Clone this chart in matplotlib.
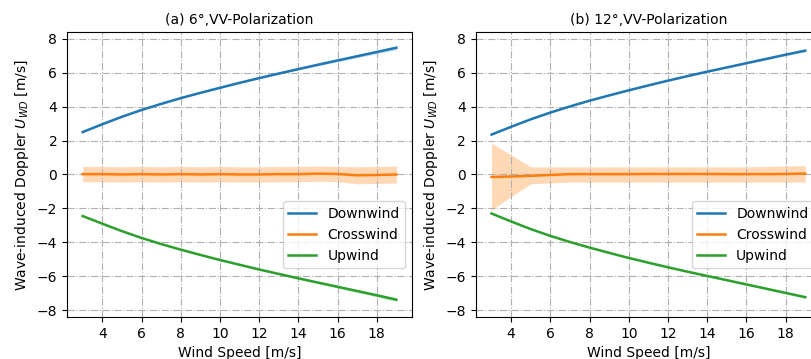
import matplotlib
matplotlib.use('Agg')
import matplotlib.pyplot as plt
import numpy as np

# wind speed bins
wind = [3, 4, 5, 6, 7, 8, 9, 10, 11, 12, 13, 14, 15, 16, 17, 18, 19]

# (a) 6 deg
down_a = [2.5, 2.96, 3.4, 3.8, 4.16, 4.5, 4.81, 5.11, 5.4, 5.68, 5.95, 6.21, 6.47, 6.72, 6.97, 7.22, 7.47]
down_a_sd = [0.02, 0.02, 0.02, 0.02, 0.03, 0.03, 0.03, 0.04, 0.04, 0.05, 0.05, 0.06, 0.07, 0.08, 0.09, 0.1, 0.11]
cross_a = [0.02, 0.02, 0.0, 0.02, 0.0, 0.02, 0.0, 0.02, 0.0, 0.0, 0.02, 0.02, 0.05, 0.03, -0.05, -0.03, 0.0]
cross_a_sd = [0.45, 0.45, 0.45, 0.45, 0.45, 0.45, 0.45, 0.45, 0.45, 0.45, 0.45, 0.45, 0.45, 0.45, 0.5, 0.5, 0.5]
up_a = [-2.45, -2.9, -3.34, -3.74, -4.1, -4.43, -4.74, -5.04, -5.32, -5.6, -5.86, -6.12, -6.37, -6.62, -6.87, -7.12, -7.38]
up_a_sd = [0.02, 0.02, 0.02, 0.02, 0.03, 0.03, 0.03, 0.04, 0.04, 0.05, 0.05, 0.06, 0.07, 0.08, 0.09, 0.1, 0.11]

# (b) 12 deg
down_b = [2.35, 2.81, 3.25, 3.65, 4.01, 4.35, 4.66, 4.96, 5.25, 5.53, 5.8, 6.06, 6.31, 6.56, 6.81, 7.06, 7.3]
down_b_sd = [0.02, 0.02, 0.02, 0.02, 0.02, 0.03, 0.03, 0.03, 0.03, 0.04, 0.04, 0.04, 0.05, 0.05, 0.06, 0.06, 0.07]
cross_b = [-0.15, -0.12, -0.08, -0.03, 0.02, 0.02, 0.02, 0.02, 0.03, 0.03, 0.03, 0.03, 0.02, 0.02, 0.02, 0.03, 0.05]
cross_b_lo = [-2.1, -1.3, -0.55, -0.5, -0.45, -0.45, -0.45, -0.45, -0.45, -0.45, -0.45, -0.45, -0.45, -0.45, -0.45, -0.45, -0.45]
cross_b_hi = [1.85, 1.15, 0.45, 0.45, 0.45, 0.45, 0.45, 0.45, 0.45, 0.45, 0.45, 0.45, 0.45, 0.45, 0.47, 0.5, 0.52]
up_b = [-2.3, -2.77, -3.22, -3.62, -3.98, -4.31, -4.62, -4.92, -5.2, -5.47, -5.73, -5.98, -6.23, -6.48, -6.73, -6.98, -7.23]
up_b_sd = [0.02, 0.02, 0.02, 0.02, 0.02, 0.03, 0.03, 0.03, 0.03, 0.04, 0.04, 0.04, 0.05, 0.05, 0.06, 0.06, 0.07]

titles = ['(a) 6°,VV-Polarization', '(b) 12°,VV-Polarization']
C_DOWN = '#1f77b4'
C_CROSS = '#ff7f0e'
C_UP = '#2ca02c'

plt.rcParams['font.size'] = 10

fig = plt.figure(figsize=(8.12, 3.59), dpi=100)
axa = fig.add_axes([0.0825, 0.117, 0.425, 0.794])
axb = fig.add_axes([0.586, 0.117, 0.425, 0.794])

def band(ax, y, sd, c, alpha):
    y = np.array(y); sd = np.array(sd)
    ax.fill_between(wind, y - sd, y + sd, color=c, alpha=alpha, lw=0)

def Panel(ax, title, down, dsd, cross, clo, chi, up, usd):
    band(ax, down, dsd, C_DOWN, 0.25)
    ax.fill_between(wind, clo, chi, color=C_CROSS, alpha=0.3, lw=0)
    band(ax, up, usd, C_UP, 0.25)
    ax.plot(wind, down, color=C_DOWN, lw=1.8, label='Downwind')
    ax.plot(wind, cross, color=C_CROSS, lw=1.8, label='Crosswind')
    ax.plot(wind, up, color=C_UP, lw=1.8, label='Upwind')
    ax.set_title(title, fontsize=10)
    ax.set_xlabel('Wind Speed [m/s]')
    ax.set_ylabel('Wave-induced Doppler $U_{WD}$ [m/s]')
    ax.set_xticks([4, 6, 8, 10, 12, 14, 16, 18])
    ax.set_yticks([-8, -6, -4, -2, 0, 2, 4, 6, 8])
    ax.set_ylim(-8.4, 8.4)
    ax.grid(True, linestyle='-.', color='#b0b0b0', lw=0.8)
    ax.legend(loc='upper right', bbox_to_anchor=(1, 0.43), fontsize=10)

ca = np.array(cross_a); csa = np.array(cross_a_sd)
Panel(axa, titles[0], down_a, down_a_sd, cross_a, ca - csa, ca + csa, up_a, up_a_sd)
Panel(axb, titles[1], down_b, down_b_sd, cross_b, cross_b_lo, cross_b_hi, up_b, up_b_sd)

fig.savefig('out.png', dpi=100, facecolor='w')
